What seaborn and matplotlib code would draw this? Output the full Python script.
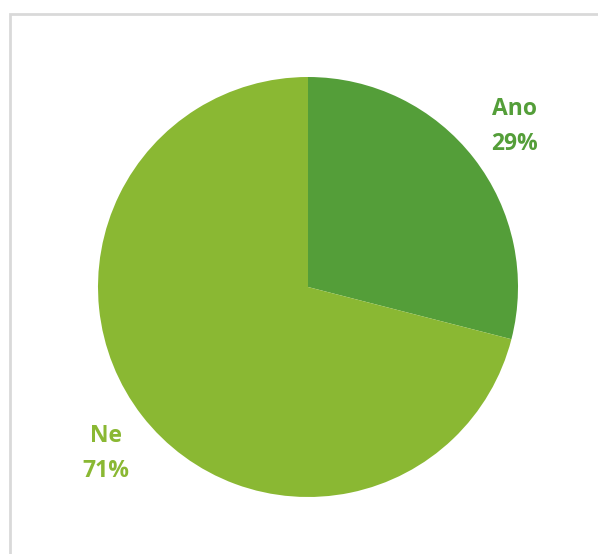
import matplotlib.pyplot as plt
import seaborn as sns
from matplotlib.patches import Rectangle

# Data
categories = ["Ano", "Ne"]
shares = [29, 71]
slice_colors = ["#549E39", "#8AB833"]

sns.set_style("white")
plt.rcParams['font.family'] = ['Open Sans', 'DejaVu Sans']

fig = plt.figure(figsize=(5.98, 5.54), dpi=100)
fig.patch.set_facecolor("white")

# light grey frame of the chart area (right/bottom run off the image)
fig.patches.append(Rectangle((10 / 598, -0.1), 1.2, 0.1 + (554 - 14) / 554,
                             transform=fig.transFigure, fill=False,
                             edgecolor="#d9d9d9", linewidth=2))

ax = fig.add_axes([98 / 598, 57 / 554, 420 / 598, 420 / 554])
labels = [f"{c}\n{s}%" for c, s in zip(categories, shares)]
wedges, texts = ax.pie(shares, colors=slice_colors, startangle=90, counterclock=False,
                       labels=labels, labeldistance=1.245,
                       wedgeprops={"linewidth": 0})
for t, col in zip(texts, slice_colors):
    t.set_color(col)
    t.set_fontsize(16.5)
    t.set_fontweight("bold")
    t.set_horizontalalignment("center")
    t.set_multialignment("center")
    t.set_linespacing(1.6)
# nudge the lower label a touch down/right like the original layout
x, y = texts[1].get_position()
texts[1].set_position((x + 0.02, y - 0.03))
ax.set_xlim(-1, 1)
ax.set_ylim(-1, 1)
ax.set_aspect("equal")
ax.axis("off")

fig.savefig("out.png", dpi=100, facecolor="white")
